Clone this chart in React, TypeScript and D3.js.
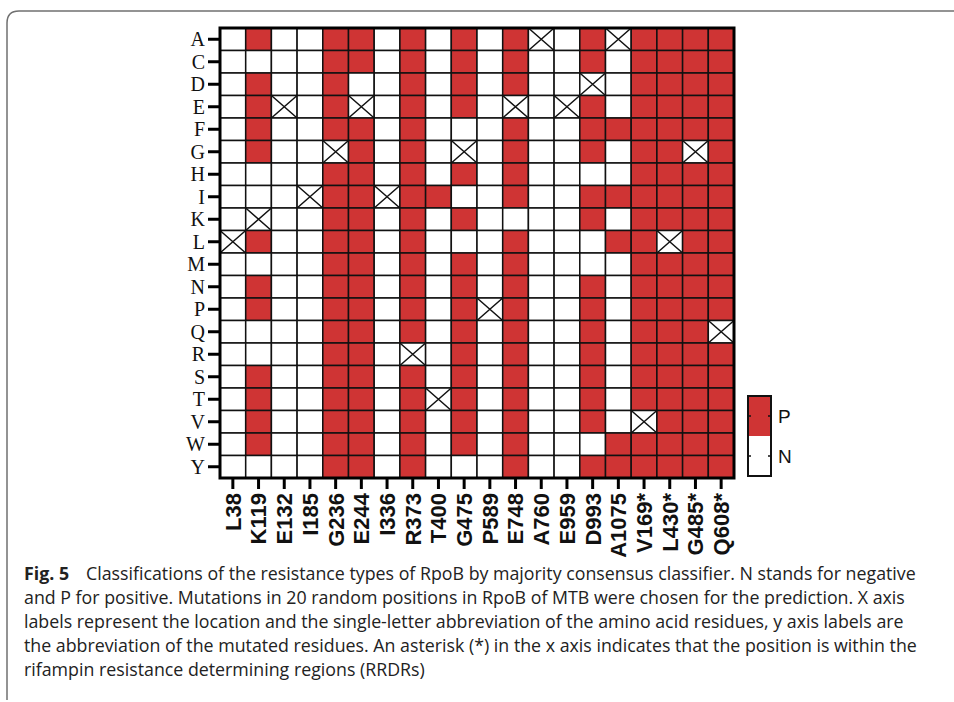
import React from 'react';
import * as d3 from 'd3';

// x axis: mutation positions (* = inside RRDR)
const positions = ['L38', 'K119', 'E132', 'I185', 'G236', 'E244', 'I336', 'R373', 'T400', 'G475',
  'P589', 'E748', 'A760', 'E959', 'D993', 'A1075', 'V169*', 'L430*', 'G485*', 'Q608*'];

// y axis: mutated residues
const residues = ['A', 'C', 'D', 'E', 'F', 'G', 'H', 'I', 'K', 'L', 'M', 'N', 'P', 'Q', 'R', 'S', 'T', 'V', 'W', 'Y'];

// one string per residue, one char per position: P positive, N negative, X wild type
const calls = [
  'NPNNPPNPNPNPXNPXPPPP',
  'NNNNPPNPNPNPNNPNPPPP',
  'NPNNPNNPNPNPNNXNPPPP',
  'NPXNPXNPNPNXNXPNPPPP',
  'NPNNPPNPNNNPNNPPPPPP',
  'NPNNXPNPNXNPNNPNPPXP',
  'NNNNPPNPNPNPNNNNPPPP',
  'NNNXPPXPPNNPNNPPPPPP',
  'NXNNPPNPNPNNNNPNPPPP',
  'XPNNPPNPNNNPNNNPPXPP',
  'NNNNPPNPNPNPNNNNPPPP',
  'NPNNPPNPNPNPNNPNPPPP',
  'NPNNPPNPNPXPNNPNPPPP',
  'NNNNPPNPNPNPNNPNPPPX',
  'NNNNPPNXNPNPNNPNPPPP',
  'NPNNPPNPNPNPNNPNPPPP',
  'NPNNPPNPXPNPNNPNPPPP',
  'NPNNPPNPNPNPNNPNXPPP',
  'NPNNPPNPNPNPNNNPPPPP',
  'NNNNPPNPNNNPNNPPPPPP',
];

const legendKeys = ['P', 'N'];

const caption = [
  'Classifications of the resistance types of RpoB by majority consensus classifier. N stands for negative',
  'and P for positive. Mutations in 20 random positions in RpoB of MTB were chosen for the prediction. X axis',
  'labels represent the location and the single-letter abbreviation of the amino acid residues, y axis labels are',
  'the abbreviation of the mutated residues. An asterisk (*) in the x axis indicates that the position is within the',
  'rifampin resistance determining regions (RRDRs)',
];

const RED = '#cf3434';

export default function App() {
  const width = 954;
  const height = 702;
  const left = 220, right = 734, top = 28, bottom = 478;

  const x = d3.scaleBand().domain(positions).range([left, right]);
  const y = d3.scaleBand().domain(residues).range([top, bottom]);
  const bw = x.bandwidth();
  const bh = y.bandwidth();

  const cells = [];
  residues.forEach((r, i) => {
    positions.forEach((p, j) => {
      cells.push({ r, p, v: calls[i][j] });
    });
  });

  const lg = d3.scaleBand().domain(legendKeys).range([396, 476]);

  return (
    <svg width={width} height={height} style={{ position: 'absolute', left: 0, top: 0, background: '#fff' }}>
      {/* figure frame */}
      <path d={`M7,700 V23 Q7,11 19,11 H954`} fill="none" stroke="#707070" strokeWidth={1.5} />

      {/* cells */}
      {cells.map((c, k) => (
        <g key={k}>
          <rect x={x(c.p)} y={y(c.r)} width={bw} height={bh}
            fill={c.v === 'P' ? RED : '#fff'} stroke="#111" strokeWidth={1.5} />
          {c.v === 'X' && (
            <path d={`M${x(c.p)},${y(c.r)} L${x(c.p) + bw},${y(c.r) + bh} M${x(c.p) + bw},${y(c.r)} L${x(c.p)},${y(c.r) + bh}`}
              stroke="#111" strokeWidth={1.5} />
          )}
        </g>
      ))}
      <rect x={left} y={top} width={right - left} height={bottom - top} fill="none" stroke="#000" strokeWidth={3} />

      {/* y axis */}
      {residues.map(r => (
        <g key={r}>
          <line x1={208} x2={left} y1={y(r) + bh / 2} y2={y(r) + bh / 2} stroke="#000" strokeWidth={3} />
          <text x={205} y={y(r) + bh / 2} dy="0.35em" textAnchor="end"
            fontFamily="Liberation Serif, serif" fontSize={20} fill="#111">{r}</text>
        </g>
      ))}

      {/* x axis */}
      {positions.map(p => {
        const cx = x(p) + bw / 2;
        return (
          <g key={p}>
            <line x1={cx} x2={cx} y1={bottom} y2={489} stroke="#000" strokeWidth={3} />
            <text transform={`translate(${cx},493) rotate(-90)`} dy="0.36em" textAnchor="end"
              fontFamily="Liberation Sans, Arial, sans-serif" fontWeight="bold" fontSize={22} fill="#111">{p}</text>
          </g>
        );
      })}

      {/* legend */}
      {legendKeys.map(k => (
        <g key={k}>
          <rect x={748} y={lg(k)} width={23} height={lg.bandwidth()} fill={k === 'P' ? RED : '#fff'} />
          <line x1={748} x2={751} y1={lg(k) + lg.bandwidth() / 2} y2={lg(k) + lg.bandwidth() / 2} stroke="#111" strokeWidth={1.5} />
          <line x1={768} x2={771} y1={lg(k) + lg.bandwidth() / 2} y2={lg(k) + lg.bandwidth() / 2} stroke="#111" strokeWidth={1.5} />
          <text x={778} y={lg(k) + lg.bandwidth() / 2} dy="0.36em"
            fontFamily="Liberation Sans, Arial, sans-serif" fontSize={19} fill="#111">{k}</text>
        </g>
      ))}
      <rect x={748} y={396} width={23} height={80} fill="none" stroke="#111" strokeWidth={2} />

      {/* caption */}
      <g fontFamily="Open Sans, sans-serif" fontSize={17.8} fill="#222">
        <text x={24} y={580}>
          <tspan fontWeight="bold">Fig. 5</tspan>
          <tspan x={86}>{caption[0]}</tspan>
        </text>
        {caption.slice(1).map((line, i) => (
          <text key={i} x={24} y={604 + i * 24}>{line}</text>
        ))}
      </g>
    </svg>
  );
}
